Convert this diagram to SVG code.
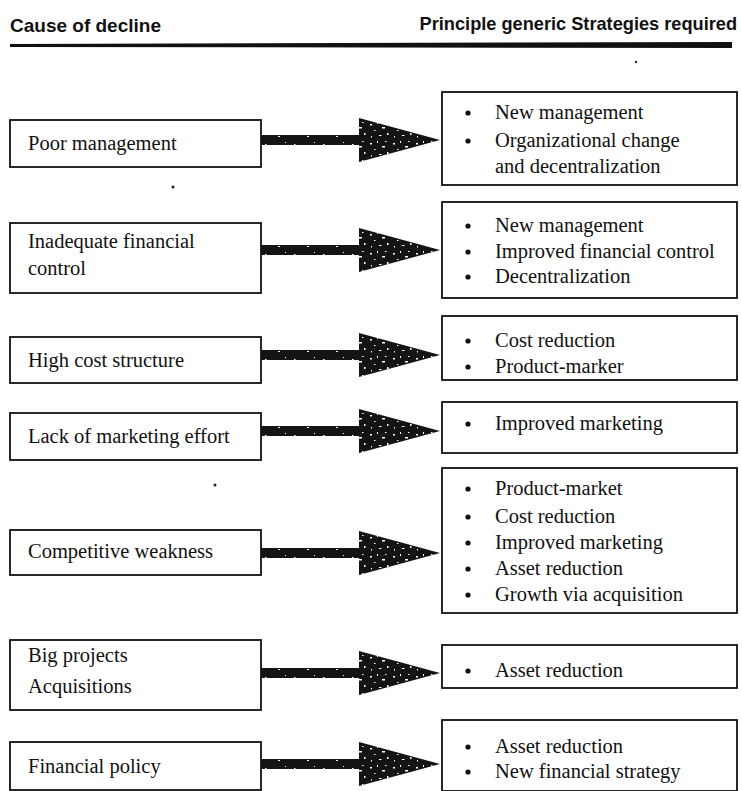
<svg xmlns="http://www.w3.org/2000/svg" width="742" height="791" viewBox="0 0 742 791">
  <style>
    .hdr { font-family: "Liberation Sans", Arial, sans-serif; font-weight: bold; font-size: 19px; fill: #111; }
    .hdr-r { font-size: 18.2px; }
    .lbl { font-family: "Liberation Serif", "Times New Roman", serif; font-size: 20.5px; fill: #111; }
    .box { fill: #fff; stroke: #111; stroke-width: 1.8; }
    .dot { fill: #111; }
    .shaft { fill: url(#grain-light); }
    .head { fill: url(#grain); }
    .speck { fill: #222; }
  </style>
  <defs>
    <!-- rough printed fill for the arrowheads -->
    <pattern id="grain" width="23" height="19" patternUnits="userSpaceOnUse">
      <rect width="23" height="19" fill="#141414"/>
      <rect x="2" y="3" width="2" height="1.5" fill="#fff"/>
      <rect x="9" y="1" width="1" height="2" fill="#fff"/>
      <rect x="14" y="6" width="3" height="1.5" fill="#fff"/>
      <rect x="6" y="9" width="1.5" height="1" fill="#fff"/>
      <rect x="19" y="12" width="1.5" height="2" fill="#fff"/>
      <rect x="11" y="14" width="2.5" height="1" fill="#fff"/>
      <rect x="3" y="15" width="1" height="1.5" fill="#fff"/>
      <rect x="17" y="1" width="1.5" height="1" fill="#fff"/>
    </pattern>
    <!-- lighter grain for the arrow shafts -->
    <pattern id="grain-light" width="29" height="10" patternUnits="userSpaceOnUse">
      <rect width="29" height="10" fill="#141414"/>
      <rect x="4" y="4" width="1.5" height="1" fill="#fff"/>
      <rect x="17" y="6" width="2" height="1" fill="#fff"/>
      <rect x="24" y="2" width="1" height="1" fill="#fff"/>
    </pattern>
    <g id="arrow">
      <rect class="shaft" x="261" y="-5" width="100" height="10"/>
      <polygon class="head" points="359,-22 440,0 359,22"/>
    </g>
  </defs>

  <!-- column headings -->
  <g id="headings">
    <text class="hdr" x="10" y="32">Cause of decline</text>
    <text class="hdr hdr-r" x="737" y="30" text-anchor="end">Principle generic Strategies required</text>
    <polygon points="10,44 732,42 732,48 10,47" fill="#111"/>
  </g>

  <!-- causes -->
  <g id="cause-poor-management">
    <rect class="box" x="10" y="120" width="251" height="47"/>
    <text class="lbl" x="28" y="150">Poor management</text>
  </g>
  <g id="cause-financial-control">
    <rect class="box" x="10" y="223" width="251" height="70"/>
    <text class="lbl" x="28" y="248">Inadequate financial</text>
    <text class="lbl" x="28" y="275">control</text>
  </g>
  <g id="cause-cost-structure">
    <rect class="box" x="10" y="337" width="251" height="46"/>
    <text class="lbl" x="28" y="367">High cost structure</text>
  </g>
  <g id="cause-marketing">
    <rect class="box" x="10" y="413" width="251" height="47"/>
    <text class="lbl" x="28" y="443">Lack of marketing effort</text>
  </g>
  <g id="cause-competitive">
    <rect class="box" x="10" y="530" width="251" height="45"/>
    <text class="lbl" x="28" y="558">Competitive weakness</text>
  </g>
  <g id="cause-projects">
    <rect class="box" x="10" y="640" width="251" height="70"/>
    <text class="lbl" x="28" y="662">Big projects</text>
    <text class="lbl" x="28" y="693">Acquisitions</text>
  </g>
  <g id="cause-financial-policy">
    <rect class="box" x="10" y="742" width="251" height="48"/>
    <text class="lbl" x="28" y="773">Financial policy</text>
  </g>

  <!-- strategies -->
  <g id="strategy-1">
    <rect class="box" x="442" y="92" width="295" height="93"/>
    <circle class="dot" cx="468" cy="113" r="2.6"/>
    <circle class="dot" cx="468" cy="141" r="2.6"/>
    <text class="lbl" x="495" y="119">New management</text>
    <text class="lbl" x="495" y="147">Organizational change</text>
    <text class="lbl" x="495" y="173">and decentralization</text>
  </g>
  <g id="strategy-2">
    <rect class="box" x="442" y="202" width="295" height="96"/>
    <circle class="dot" cx="468" cy="226" r="2.6"/>
    <circle class="dot" cx="468" cy="252" r="2.6"/>
    <circle class="dot" cx="468" cy="277" r="2.6"/>
    <text class="lbl" x="495" y="232">New management</text>
    <text class="lbl" x="495" y="258">Improved financial control</text>
    <text class="lbl" x="495" y="283">Decentralization</text>
  </g>
  <g id="strategy-3">
    <rect class="box" x="442" y="316" width="295" height="64"/>
    <circle class="dot" cx="468" cy="341" r="2.6"/>
    <circle class="dot" cx="468" cy="367" r="2.6"/>
    <text class="lbl" x="495" y="347">Cost reduction</text>
    <text class="lbl" x="495" y="373">Product-marker</text>
  </g>
  <g id="strategy-4">
    <rect class="box" x="442" y="402" width="295" height="51"/>
    <circle class="dot" cx="468" cy="424" r="2.6"/>
    <text class="lbl" x="495" y="430">Improved marketing</text>
  </g>
  <g id="strategy-5">
    <rect class="box" x="442" y="468" width="295" height="145"/>
    <circle class="dot" cx="468" cy="489" r="2.6"/>
    <circle class="dot" cx="468" cy="517" r="2.6"/>
    <circle class="dot" cx="468" cy="543" r="2.6"/>
    <circle class="dot" cx="468" cy="569" r="2.6"/>
    <circle class="dot" cx="468" cy="595" r="2.6"/>
    <text class="lbl" x="495" y="495">Product-market</text>
    <text class="lbl" x="495" y="523">Cost reduction</text>
    <text class="lbl" x="495" y="549">Improved marketing</text>
    <text class="lbl" x="495" y="575">Asset reduction</text>
    <text class="lbl" x="495" y="601">Growth via acquisition</text>
  </g>
  <g id="strategy-6">
    <rect class="box" x="442" y="645" width="295" height="43"/>
    <circle class="dot" cx="468" cy="671" r="2.6"/>
    <text class="lbl" x="495" y="677">Asset reduction</text>
  </g>
  <g id="strategy-7">
    <rect class="box" x="442" y="720" width="295" height="71"/>
    <circle class="dot" cx="468" cy="747" r="2.6"/>
    <circle class="dot" cx="468" cy="772" r="2.6"/>
    <text class="lbl" x="495" y="753">Asset reduction</text>
    <text class="lbl" x="495" y="778">New financial strategy</text>
  </g>

  <!-- connectors: cause to strategy -->
  <g id="connectors">
    <use href="#arrow" transform="translate(0,140)"/>
    <use href="#arrow" transform="translate(0,250)"/>
    <use href="#arrow" transform="translate(0,355)"/>
    <use href="#arrow" transform="translate(0,431)"/>
    <use href="#arrow" transform="translate(0,553)"/>
    <use href="#arrow" transform="translate(0,673)"/>
    <use href="#arrow" transform="translate(0,764)"/>
  </g>

  <!-- stray print specks -->
  <g id="specks">
    <circle class="speck" cx="173" cy="187" r="1.5"/>
    <circle class="speck" cx="215" cy="485" r="1.5"/>
    <circle class="speck" cx="636" cy="62" r="1.2"/>
  </g>
</svg>
